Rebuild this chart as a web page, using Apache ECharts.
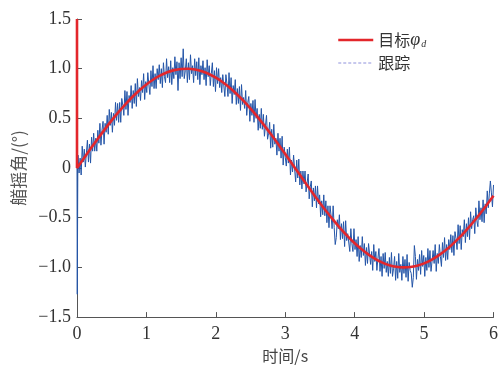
<!DOCTYPE html>
<html>
<head>
<meta charset="utf-8">
<script src="https://cdn.jsdelivr.net/npm/echarts@6/dist/echarts.min.js"></script>
<style>
  html, body { margin: 0; padding: 0; background: #fff; }
  #chart { width: 501px; height: 369px; }
</style>
</head>
<body>
<div id="chart"></div>
<script>
// Target heading (deg) sampled every 0.1 s, preceded by the initial step at t = 0
const targetTime = [0, 0, 0.1, 0.2, 0.3, 0.4, 0.5, 0.6, 0.7, 0.8, 0.9, 1.0, 1.1, 1.2, 1.3, 1.4, 1.5, 1.6, 1.7, 1.8, 1.9,
  2.0, 2.1, 2.2, 2.3, 2.4, 2.5, 2.6, 2.7, 2.8, 2.9, 3.0, 3.1, 3.2, 3.3, 3.4, 3.5, 3.6, 3.7, 3.8, 3.9,
  4.0, 4.1, 4.2, 4.3, 4.4, 4.5, 4.6, 4.7, 4.8, 4.9, 5.0, 5.1, 5.2, 5.3, 5.4, 5.5, 5.6, 5.7, 5.8, 5.9, 6.0];
const targetValue = [1.5, 0, 0.0998, 0.1987, 0.2955, 0.3894, 0.4794, 0.5646, 0.6442, 0.7174, 0.7833, 0.8415, 0.8912, 0.9320,
  0.9636, 0.9854, 0.9975, 0.9996, 0.9917, 0.9738, 0.9463, 0.9093, 0.8632, 0.8085, 0.7457, 0.6755, 0.5985, 0.5155,
  0.4274, 0.3350, 0.2392, 0.1411, 0.0416, -0.0584, -0.1577, -0.2555, -0.3508, -0.4425, -0.5298, -0.6119, -0.6878,
  -0.7568, -0.8183, -0.8716, -0.9162, -0.9516, -0.9775, -0.9937, -0.9999, -0.9962, -0.9825, -0.9589, -0.9258,
  -0.8835, -0.8323, -0.7728, -0.7055, -0.6313, -0.5507, -0.4646, -0.3739, -0.2794];

// Start-up transient of the tracked heading
const startTime = [0, 0.004, 0.008, 0.012];
const startValue = [0, -1.27, -0.60, 0.02];

// Tracked heading (deg), one sample every 0.015 s from 0.015 s to 6 s
const trackStep = 0.015;
const trackValue = [
  0.13, -0.05, 0.10, -0.07, 0.22, 0.06, 0.19, 0.01, 0.15, 0.28, 0.06, 0.24, 0.05, 0.31, 0.17, 0.35, 0.17, 0.30, 0.17, 0.38,
  0.25, 0.45, 0.23, 0.38, 0.47, 0.24, 0.45, 0.36, 0.53, 0.34, 0.59, 0.43, 0.56, 0.36, 0.55, 0.43, 0.66, 0.48, 0.65, 0.46,
  0.66, 0.46, 0.70, 0.63, 0.53, 0.78, 0.59, 0.77, 0.53, 0.73, 0.66, 0.83, 0.60, 0.78, 0.65, 0.85, 0.62, 0.90, 0.72, 0.81,
  0.68, 0.88, 0.76, 0.95, 0.69, 0.87, 0.76, 0.96, 0.84, 0.74, 0.98, 0.82, 1.03, 0.80, 0.95, 0.80, 1.00, 0.89, 1.04, 0.85,
  1.00, 0.81, 1.06, 0.92, 0.86, 1.10, 0.91, 1.02, 0.86, 1.08, 0.84, 1.01, 0.90, 1.12, 0.94, 1.07, 0.78, 1.06, 0.90, 1.11,
  0.92, 1.20, 0.90, 0.98, 1.10, 0.86, 1.06, 0.89, 1.14, 0.95, 1.03, 0.86, 1.10, 0.93, 1.07, 0.89, 1.11, 0.84, 1.03, 0.94,
  1.08, 0.89, 1.01, 0.83, 1.09, 0.92, 1.03, 0.83, 0.95, 1.06, 0.82, 0.98, 0.77, 1.01, 0.85, 1.00, 0.81, 0.91, 0.76, 0.94,
  0.94, 0.72, 0.94, 0.85, 0.72, 0.96, 0.75, 0.91, 0.65, 0.83, 0.74, 0.89, 0.64, 0.80, 0.65, 0.82, 0.58, 0.84, 0.64, 0.71,
  0.60, 0.78, 0.53, 0.66, 0.72, 0.47, 0.65, 0.53, 0.68, 0.46, 0.69, 0.50, 0.60, 0.38, 0.54, 0.40, 0.60, 0.39, 0.54, 0.32,
  0.33, 0.53, 0.29, 0.35, 0.46, 0.20, 0.39, 0.21, 0.44, 0.24, 0.30, 0.13, 0.35, 0.17, 0.30, 0.10, 0.32, 0.03, 0.21, 0.11,
  0.02, 0.19, 0.05, 0.21, -0.07, 0.08, -0.04, 0.13, -0.01, -0.14, 0.08, -0.10, 0.09, -0.17, -0.03, -0.21, -0.03, -0.16, -0.03, -0.24,
  -0.23, -0.06, -0.31, -0.19, -0.13, -0.39, -0.20, -0.33, -0.18, -0.40, -0.18, -0.36, -0.27, -0.49, -0.33, -0.47, -0.27, -0.48, -0.33, -0.55,
  -0.38, -0.60, -0.38, -0.48, -0.61, -0.38, -0.60, -0.77, -0.70, -0.52, -0.61, -0.47, -0.72, -0.56, -0.71, -0.54, -0.79, -0.53, -0.73, -0.66,
  -0.64, -0.84, -0.61, -0.76, -0.84, -0.61, -0.82, -0.72, -0.89, -0.69, -0.94, -0.78, -0.90, -0.69, -0.88, -0.76, -0.98, -0.80, -0.96, -0.76,
  -0.77, -0.97, -0.84, -1.03, -0.77, -0.94, -0.84, -1.03, -0.91, -0.81, -1.04, -0.89, -1.09, -0.86, -1.01, -0.85, -1.05, -0.94, -1.09, -0.90,
  -1.06, -0.85, -1.09, -1.01, -0.89, -1.13, -0.94, -1.11, -0.86, -1.05, -0.97, -1.13, -0.89, -1.06, -0.92, -1.10, -0.87, -1.14, -0.95, -1.03,
  -1.06, -1.20, -1.10, -0.78, -0.89, -1.12, -0.92, -1.03, -0.87, -1.07, -0.83, -0.99, -0.88, -1.09, -0.90, -1.03, -0.81, -1.00, -0.83, -1.04,
  -1.03, -0.83, -0.96, -0.77, -1.04, -0.86, -0.96, -0.77, -0.89, -0.99, -0.75, -0.90, -0.70, -0.93, -0.77, -0.92, -0.72, -0.82, -0.67, -0.85,
  -0.68, -0.88, -0.64, -0.71, -0.82, -0.57, -0.76, -0.58, -0.82, -0.62, -0.69, -0.52, -0.75, -0.56, -0.69, -0.50, -0.72, -0.44, -0.61, -0.52,
  -0.48, -0.66, -0.40, -0.53, -0.59, -0.33, -0.52, -0.40, -0.54, -0.32, -0.55, -0.36, -0.46, -0.23, -0.40, -0.26, -0.13, -0.25, -0.39, -0.17
];

const yTickLabels = {'1.5': '1.5', '1': '1.0', '0.5': '0.5', '0': '0', '-0.5': '\u22120.5', '-1': '\u22121.0', '-1.5': '\u22121.5'};

const targetData = targetTime.map((t, i) => [t, targetValue[i]]);
const trackData = startTime.map((t, i) => [t, startValue[i]])
  .concat(trackValue.map((v, i) => [+(trackStep * (i + 1)).toFixed(3), v]));

const serif = 'Liberation Serif';
const cjk = 'Noto Sans CJK SC';

const chart = echarts.init(document.getElementById('chart'), null, { renderer: 'canvas' });
chart.setOption({
  animation: false,
  backgroundColor: '#fff',
  grid: { left: 77, right: 7, top: 19, bottom: 42, containLabel: false },
  legend: {
    left: 332, top: 26, orient: 'vertical', itemGap: 5, itemWidth: 35, itemHeight: 14,
    itemStyle: { color: 'rgba(0,0,0,0)', borderWidth: 0, opacity: 0 },
    textStyle: {
      fontFamily: cjk, fontSize: 16, color: '#333', lineHeight: 18,
      rich: {
        phi: { fontFamily: serif, fontStyle: 'italic', fontSize: 18, color: '#333', lineHeight: 18 },
        sub: { fontFamily: serif, fontStyle: 'italic', fontSize: 10, color: '#333', lineHeight: 18,
          verticalAlign: 'bottom', padding: [0, 0, 0, 1] }
      }
    },
    formatter: name => name === '目标φd' ? '目标{phi|φ}{sub|d}' : name,
    data: [
      { name: '目标φd', lineStyle: { color: '#e3262b', width: 2.5, type: 'solid' } },
      { name: '跟踪', lineStyle: { color: '#8f92dc', width: 1, type: [3, 2] } }
    ]
  },
  xAxis: {
    type: 'value', min: 0, max: 6, interval: 1,
    name: '时间/s', nameLocation: 'middle', nameGap: 22,
    nameTextStyle: { fontFamily: cjk, fontSize: 16, color: '#444' },
    axisLine: { onZero: false, lineStyle: { color: '#555', width: 1 } },
    axisTick: { inside: true, length: 5, lineStyle: { color: '#555' } },
    axisLabel: { fontFamily: serif, fontSize: 18, color: '#333', margin: 8, formatter: v => String(v) },
    splitLine: { show: false }
  },
  yAxis: {
    type: 'value', min: -1.5, max: 1.5, interval: 0.5,
    name: '艏摇角/(°)', nameLocation: 'middle', nameGap: 48, nameRotate: 90,
    nameTextStyle: { fontFamily: cjk, fontSize: 17, color: '#555' },
    axisLine: { show: true, onZero: false, lineStyle: { color: '#555', width: 1 } },
    axisTick: { show: true, inside: true, length: 5, lineStyle: { color: '#555' } },
    axisLabel: { fontFamily: serif, fontSize: 18, color: '#333', margin: 6,
      formatter: v => yTickLabels[String(v)] || String(v) },
    splitLine: { show: false }
  },
  series: [
    {
      name: '跟踪', type: 'line', data: trackData, symbol: 'none', z: 2,
      lineStyle: { color: '#2455a8', width: 1 },
      itemStyle: { color: '#8f92dc' }
    },
    {
      name: '目标φd', type: 'line', data: targetData, symbol: 'none', smooth: 0.3, z: 3,
      lineStyle: { color: '#e3262b', width: 2.6 },
      itemStyle: { color: '#e3262b' }
    }
  ]
});
</script>
</body>
</html>
